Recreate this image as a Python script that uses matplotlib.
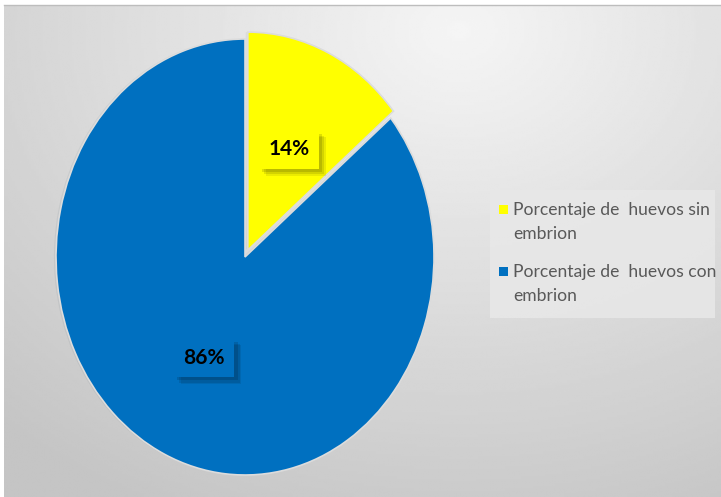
import numpy as np
import matplotlib
matplotlib.use('Agg')
import matplotlib.pyplot as plt
import matplotlib.patheffects as pe
from matplotlib.patches import Rectangle

# egg counts as shares of the sample
labels = ['Porcentaje de  huevos sin\nembrion', 'Porcentaje de  huevos con\nembrion']
shares = [14, 86]
colors = ['#FFFF00', '#0070C0']

plt.rcParams['font.family'] = ['Lato', 'DejaVu Sans']

W, H = 721, 497
fig = plt.figure(figsize=(W / 100, H / 100), dpi=100, facecolor='white')


def px(x, y):
    # pixel position (from top-left) -> figure fraction
    return x / W, 1 - y / H


# chart area with a soft radial grey gradient
bg = fig.add_axes([4 / W, 0, 1 - 4 / W, 1 - 5 / H])
bg.set_axis_off()
yy, xx = np.mgrid[0:200, 0:300]
dist = np.hypot((xx - 190) / 300, (yy - 10) / 230)
shade = np.clip(0.96 - 0.2 * dist, 0.77, 0.96)
bg.imshow(shade, cmap='gray', vmin=0, vmax=1, aspect='auto',
          extent=[0, 1, 0, 1], interpolation='bilinear')
bg.set_xlim(0, 1)
bg.set_ylim(0, 1)
# thin grey line along the top of the chart area
fig.add_artist(plt.Line2D([4 / W, 1], [1 - 4.5 / H, 1 - 4.5 / H],
                          color='#bdbdbd', lw=1))

ax = fig.add_axes([56 / W, 22 / H, 378 / W, 436 / H])
ax.set_axis_off()
wedges, texts, autotexts = ax.pie(
    shares, colors=colors, startangle=90, counterclock=False,
    explode=(0.035, 0), autopct='%1.0f%%', pctdistance=0.51,
    wedgeprops=dict(edgecolor='#dcdcdc', linewidth=1.2),
    textprops=dict(fontsize=15, fontweight='bold', color='black'))
ax.set_aspect('auto')
ax.set_xlim(-1, 1)
ax.set_ylim(-1, 1)
for w in wedges:
    w.set_clip_on(False)
    w.set_path_effects([pe.SimplePatchShadow(offset=(-1.5, 0), alpha=0.06),
                        pe.Normal()])

# label boxes with a soft drop shadow
for t, c in zip(autotexts, colors):
    t.set_bbox(dict(boxstyle='square,pad=0.45', facecolor=c, edgecolor='none'))
    t.get_bbox_patch().set_path_effects([
        pe.SimplePatchShadow(offset=(5, -5), shadow_rgbFace='black', alpha=0.08),
        pe.SimplePatchShadow(offset=(4, -4), shadow_rgbFace='black', alpha=0.1),
        pe.SimplePatchShadow(offset=(2.5, -2.5), shadow_rgbFace='black', alpha=0.12),
        pe.Normal()])

# legend panel on the right
x0, y0 = px(490, 318)
x1, y1 = px(715, 190)
fig.add_artist(Rectangle((x0, y0), x1 - x0, y1 - y0, transform=fig.transFigure,
                         facecolor='#e8e8e8', edgecolor='none', alpha=0.85))
for i, (lab, c) in enumerate(zip(labels, colors)):
    top = 205 + 62 * i
    sx, sy = px(499, top + 9)
    fig.add_artist(Rectangle((sx, sy), 9 / W, 9 / H, transform=fig.transFigure,
                             facecolor=c, edgecolor='none'))
    for j, line in enumerate(lab.split('\n')):
        tx, ty = px(513, top + 10 + 24 * j)
        fig.text(tx, ty, line, fontsize=12.6, color='#595959',
                 ha='left', va='baseline')

fig.savefig('out.png', dpi=100, facecolor='white')
